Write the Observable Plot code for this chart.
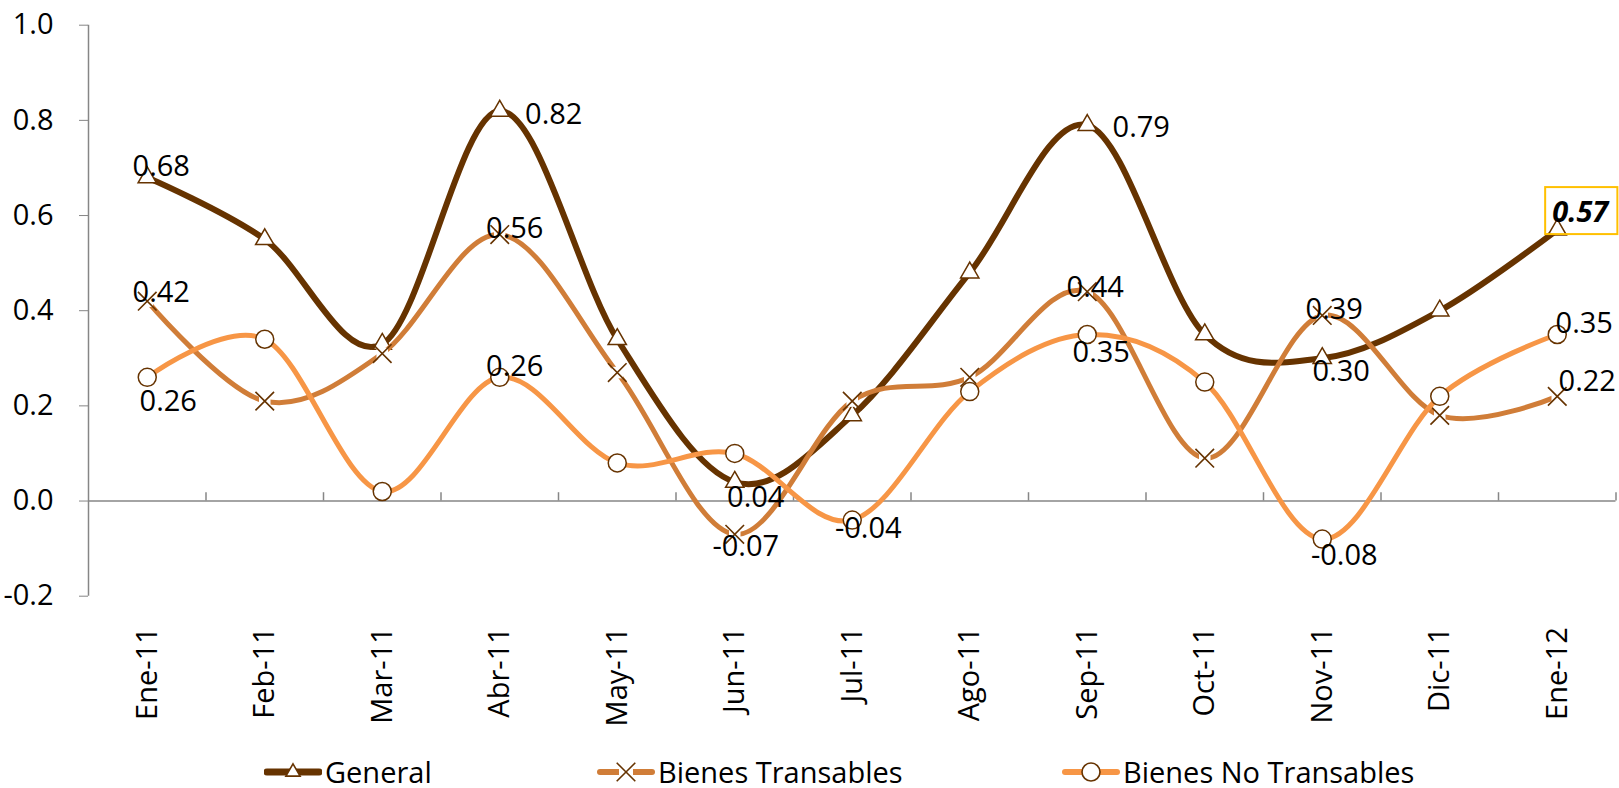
<!DOCTYPE html>
<html><head><meta charset="utf-8">
<script src="https://cdn.jsdelivr.net/npm/d3@7"></script>
<script src="https://cdn.jsdelivr.net/npm/@observablehq/plot@0.6"></script>
<style>
body{margin:0;background:#fff;font-family:"Open Sans",sans-serif;overflow:hidden;}
#legend{position:relative;width:1619px;height:43px;}
.item{position:absolute;top:12px;height:30px;line-height:30px;display:flex;align-items:center;font-size:29px;color:#000;white-space:nowrap;}
.item svg{margin-right:3px;}
</style></head><body>
<div id="chart"></div>
<div id="legend"></div>
<script>
// ---- data ----
const months = ["Ene-11","Feb-11","Mar-11","Abr-11","May-11","Jun-11","Jul-11","Ago-11","Sep-11","Oct-11","Nov-11","Dic-11","Ene-12"];
const general      = [0.68, 0.55, 0.33, 0.82, 0.34, 0.04, 0.18, 0.48, 0.79, 0.35, 0.30, 0.40, 0.57];
const transables   = [0.42, 0.21, 0.31, 0.56, 0.27, -0.07, 0.21, 0.26, 0.44, 0.09, 0.39, 0.18, 0.22];
const noTransables = [0.26, 0.34, 0.02, 0.26, 0.08, 0.10, -0.04, 0.23, 0.35, 0.25, -0.08, 0.22, 0.35];
const yTicks = [-0.2, 0.0, 0.2, 0.4, 0.6, 0.8, 1.0];
const seriesNames = ["General", "Bienes Transables", "Bienes No Transables"];
// which months carry a data label, per series
const generalLabeled = [0, 3, 5, 8, 10, 12];
const transablesLabeled = [0, 3, 5, 8, 10, 12];
const noTransablesLabeled = [0, 3, 6, 8, 10, 12];

// ---- layout / style (not data) ----
const labelOffsets = {
  General: {0:[14,-11], 3:[54,4], 5:[21,16], 8:[54,3], 10:[19,13], 12:[23,-17]},
  "Bienes Transables": {0:[14,-8], 3:[15,-6], 5:[11,12], 8:[8,-4], 10:[12,-6], 12:[30,-15]},
  "Bienes No Transables": {0:[21,24], 3:[15,-11], 6:[16,9], 8:[14,18], 10:[22,17], 12:[27,-11]}
};
const colors = {General:"#663300", "Bienes Transables":"#D07D38", "Bienes No Transables":"#F79646"};
const markerStroke = "#663300";
const axisGray = "#868686";
const FS = 29;

const idx = d3.range(months.length);
const rows = (vals) => idx.map(i => ({i, v: vals[i]}));
const gRows = rows(general), tRows = rows(transables), nRows = rows(noTransables);
const curve = {curve: "cardinal", tension: 0};

function labelMarks(name, vals, labeled, extra = {}) {
  return labeled.map(i => {
    const [dx, dy] = labelOffsets[name][i];
    return Plot.text([{i, v: vals[i]}], {
      x: "i", y: "v", text: d => d.v.toFixed(2), dx, dy,
      fill: "#000", fontSize: FS, fontFamily: "Open Sans", ...(i === 12 && name === "General" ? extra : {})
    });
  });
}

const boundaries = d3.range(13).map(i => i + 0.5);

const plot = Plot.plot({
  width: 1619,
  height: 745,
  marginLeft: 88,
  marginRight: 3.5,
  marginTop: 24.7,
  marginBottom: 149.3,
  style: {fontFamily: "Open Sans", fontSize: FS + "px", background: "#fff", color: "#000", overflow: "visible"},
  x: {type: "linear", domain: [-0.5, 12.5]},
  y: {domain: [-0.2, 1.0]},
  marks: [
    Plot.ruleX([-0.5], {y1: -0.2, y2: 1.0, stroke: axisGray, strokeWidth: 1.5}),
    Plot.ruleY([0], {stroke: axisGray, strokeWidth: 1.5}),
    Plot.ruleX(boundaries, {y1: 0, y2: 0.0175, stroke: axisGray, strokeWidth: 1.5}),
    Plot.axisY({ticks: yTicks, tickFormat: d => d.toFixed(1), tickSize: 9, tickPadding: 26, stroke: axisGray, fontSize: FS, fill: "#000", label: null}),
    Plot.axisX({ticks: idx, tickFormat: i => months[i], tickRotate: -90, tickSize: 0, tickPadding: 31, fontSize: FS, fill: "#000", label: null}),
    // General
    Plot.line(gRows, {x: "i", y: "v", stroke: colors.General, strokeWidth: 6, ...curve}),
    Plot.dot(gRows, {x: "i", y: "v", symbol: "triangle", r: 6.8, fill: "#fff", stroke: markerStroke, strokeWidth: 1.5}),
    // Bienes Transables
    Plot.line(tRows, {x: "i", y: "v", stroke: colors["Bienes Transables"], strokeWidth: 5, ...curve}),
    Plot.dot(tRows, {x: "i", y: "v", symbol: "square", r: 6.5, fill: "#fff", stroke: "none"}),
    Plot.dot(tRows, {x: "i", y: "v", symbol: "times", r: 8.5, stroke: markerStroke, strokeWidth: 1.6}),
    // Bienes No Transables
    Plot.line(nRows, {x: "i", y: "v", stroke: colors["Bienes No Transables"], strokeWidth: 5, ...curve}),
    Plot.dot(nRows, {x: "i", y: "v", symbol: "circle", r: 9, fill: "#fff", stroke: markerStroke, strokeWidth: 1.5}),
    // labels
    ...labelMarks("General", general, generalLabeled, {fontWeight: "bold", fontStyle: "italic", className: "hl"}),
    ...labelMarks("Bienes Transables", transables, transablesLabeled),
    ...labelMarks("Bienes No Transables", noTransables, noTransablesLabeled)
  ]
});
document.getElementById("chart").appendChild(plot);

// highlight box around last General label
const hlText = plot.querySelector("g.hl text");
if (hlText) {
  const bb = hlText.getBBox();
  const rect = document.createElementNS("http://www.w3.org/2000/svg", "rect");
  rect.setAttribute("x", bb.x - 7);
  rect.setAttribute("y", bb.y - 4);
  rect.setAttribute("width", bb.width + 14);
  rect.setAttribute("height", bb.height + 8);
  rect.setAttribute("fill", "none");
  rect.setAttribute("stroke", "#FFC000");
  rect.setAttribute("stroke-width", 2);
  const tr = hlText.getAttribute("transform");
  if (tr) rect.setAttribute("transform", tr);
  hlText.parentNode.insertBefore(rect, hlText);
}

// ---- legend ----
const legendLeft = [264, 597, 1062];
const legendSymbols = ["triangle", "times", "circle"];
const legendWidths = [7, 6, 6];
const legend = d3.select("#legend");
seriesNames.forEach((name, k) => {
  const item = legend.append("div").attr("class", "item").style("left", legendLeft[k] + "px");
  const s = item.append("svg").attr("width", 58).attr("height", 30);
  s.append("line").attr("x1", 3).attr("x2", 55).attr("y1", 15).attr("y2", 15)
    .attr("stroke", colors[name]).attr("stroke-width", legendWidths[k]).attr("stroke-linecap", "round");
  const sym = {triangle: d3.symbolTriangle2, times: d3.symbolTimes, circle: d3.symbolCircle}[legendSymbols[k]];
  if (legendSymbols[k] === "times") {
    s.append("rect").attr("x", 22).attr("y", 8).attr("width", 14).attr("height", 14).attr("fill", "#fff");
  }
  s.append("path").attr("transform", "translate(29,15)")
    .attr("d", d3.symbol(sym, legendSymbols[k] === "times" ? 227 : legendSymbols[k] === "circle" ? 254 : 145)())
    .attr("fill", legendSymbols[k] === "times" ? "none" : "#fff")
    .attr("stroke", markerStroke).attr("stroke-width", 1.6);
  item.append("span").text(name);
});
</script>
</body></html>
